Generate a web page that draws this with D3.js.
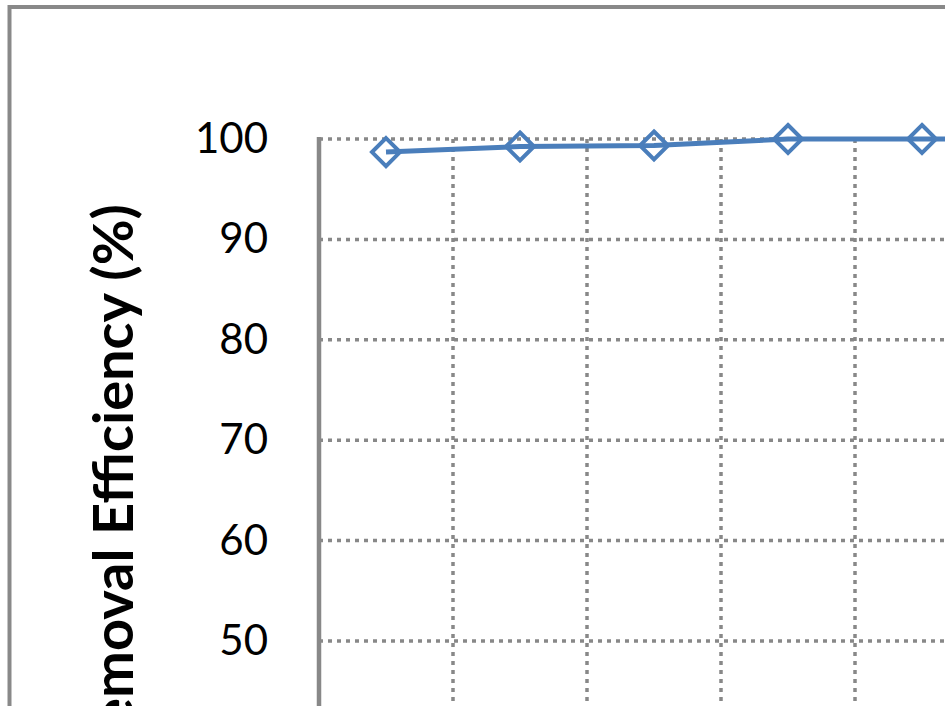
<!DOCTYPE html>
<html>
<head>
<meta charset="utf-8">
<script src="https://cdn.jsdelivr.net/npm/d3@7"></script>
<style>
  body { margin: 0; background: #fff; }
  svg { display: block; }
</style>
</head>
<body>
<div id="chart"></div>
<script>
// values (only part of the chart is visible)
const categories = ["1", "2", "3", "4", "5", "6"];
const removal = [98.7, 99.25, 99.35, 100, 100, 100];
const yTicks = [40, 50, 60, 70, 80, 90, 100];

(function () {
  var W = 945, H = 706;
  var plot = {left: 319, top: 139, bandW: 134, unit: 10.04};

  var svg = d3.select("#chart").append("svg")
    .attr("width", W)
    .attr("height", H);

  // outer chart border, runs off the bottom/right of the crop
  svg.append("rect")
    .attr("x", 9.5).attr("y", 7)
    .attr("width", 1200).attr("height", 1200)
    .attr("fill", "none")
    .attr("stroke", "#898989")
    .attr("stroke-width", 4);

  var x = d3.scaleBand()
    .domain(categories)
    .range([plot.left, plot.left + plot.bandW * categories.length])
    .padding(0);

  var y = d3.scaleLinear()
    .domain([30, 100])
    .range([plot.top + 70 * plot.unit, plot.top]);

  var right = x.range()[1], bottom = y(30);

  // horizontal gridlines
  svg.append("g").selectAll("line")
    .data(yTicks)
    .enter().append("line")
    .attr("x1", plot.left).attr("x2", right)
    .attr("y1", function (d) { return y(d); })
    .attr("y2", function (d) { return y(d); })
    .attr("stroke", "#888")
    .attr("stroke-width", 3.5)
    .attr("stroke-dasharray", "4,5");

  // vertical gridlines at category boundaries
  svg.append("g").selectAll("line")
    .data(categories.slice(1))
    .enter().append("line")
    .attr("x1", function (d) { return x(d); })
    .attr("x2", function (d) { return x(d); })
    .attr("y1", plot.top).attr("y2", bottom)
    .attr("stroke", "#888")
    .attr("stroke-width", 3.5)
    .attr("stroke-dasharray", "4,5");

  // y axis
  var yAxis = svg.append("g")
    .attr("transform", "translate(" + plot.left + ",0)")
    .call(d3.axisLeft(y).tickValues(yTicks).tickSize(0).tickPadding(51));
  yAxis.select(".domain")
    .attr("d", "M0," + (plot.top - 2) + "V" + bottom)
    .attr("stroke", "#888")
    .attr("stroke-width", 4.5);
  yAxis.selectAll("text")
    .attr("font-family", "Lato, 'Open Sans', sans-serif")
    .attr("font-size", 42)
    .attr("fill", "#000");

  // y title
  svg.append("text")
    .attr("transform", "translate(133,204) rotate(-90)")
    .attr("text-anchor", "end")
    .attr("font-family", "Lato, 'Open Sans', sans-serif")
    .attr("font-weight", "bold")
    .attr("font-size", 56)
    .attr("fill", "#000")
    .text("Removal Efficiency (%)");

  // series line
  var line = d3.line()
    .x(function (d, i) { return x(categories[i]) + x.bandwidth() / 2; })
    .y(function (d) { return y(d); });

  svg.append("path")
    .datum(removal)
    .attr("d", line)
    .attr("fill", "none")
    .attr("stroke", "#4a7ebb")
    .attr("stroke-width", 5)
    .attr("stroke-linejoin", "round");

  // hollow diamond markers
  var r = 14;
  svg.append("g").selectAll("path")
    .data(removal)
    .enter().append("path")
    .attr("transform", function (d, i) {
      return "translate(" + (x(categories[i]) + x.bandwidth() / 2) + "," + y(d) + ")";
    })
    .attr("d", "M0," + (-r) + "L" + r + ",0L0," + r + "L" + (-r) + ",0Z")
    .attr("fill", "none")
    .attr("stroke", "#4a7ebb")
    .attr("stroke-width", 4);
})();
</script>
</body>
</html>
